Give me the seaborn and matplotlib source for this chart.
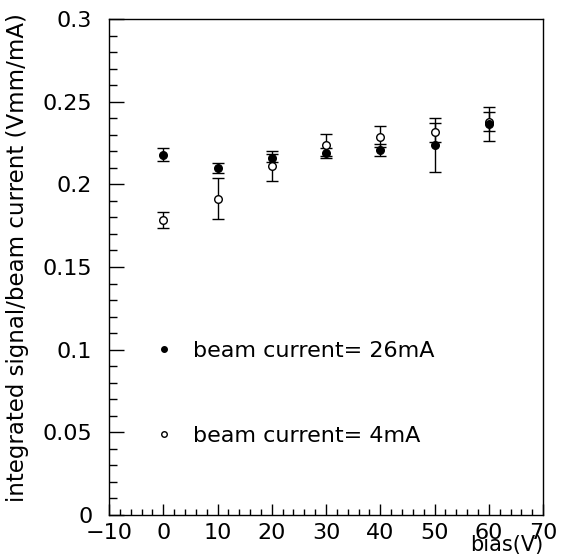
import numpy as np
import pandas as pd
import seaborn as sns
from matplotlib import pyplot as plt
from matplotlib.lines import Line2D
from matplotlib.ticker import MultipleLocator

# bias voltage (V)
bias = [0, 10, 20, 30, 40, 50, 60]

# beam current = 26 mA (filled)
sig_26 = [0.2180, 0.2098, 0.2158, 0.2188, 0.2208, 0.2238, 0.2365]
err_26 = [0.0040, 0.0030, 0.0024, 0.0030, 0.0035, 0.0165, 0.0100]

# beam current = 4 mA (open)
sig_4 = [0.1783, 0.1914, 0.2112, 0.2238, 0.2289, 0.2315, 0.2380]
err_4 = [0.0050, 0.0125, 0.0090, 0.0067, 0.0062, 0.0058, 0.0060]

labels = ["beam current= 26mA", "beam current= 4mA"]

sns.set_style("ticks")
plt.rcParams["font.family"] = ["DejaVu Sans"]
plt.rcParams["text.color"] = "black"
plt.rcParams["axes.labelcolor"] = "black"
plt.rcParams["xtick.color"] = "black"
plt.rcParams["ytick.color"] = "black"

df = pd.DataFrame({
    "bias": bias * 2,
    "signal": sig_4 + sig_26,
    "err": err_4 + err_26,
    "current": ["4mA"] * len(bias) + ["26mA"] * len(bias),
})

fig = plt.figure(figsize=(5.63, 5.59), dpi=100)
ax = fig.add_axes([0.1936, 0.0787, 0.771, 0.8873])

# open first so filled ends up on top
for cur, face in [("4mA", "white"), ("26mA", "black")]:
    d = df[df["current"] == cur]
    ax.errorbar(d["bias"], d["signal"], yerr=d["err"], fmt="none",
                ecolor="black", elinewidth=1.0, capsize=4, capthick=1.0, zorder=2)
    sns.scatterplot(x=d["bias"], y=d["signal"], ax=ax, s=30, marker="o",
                    facecolor=face, edgecolor="black", linewidth=1.0, zorder=3)

ax.set_xlim(-10, 70)
ax.set_ylim(0, 0.3)
ax.xaxis.set_major_locator(MultipleLocator(10))
ax.xaxis.set_minor_locator(MultipleLocator(2))
ax.yaxis.set_minor_locator(MultipleLocator(0.01))
ax.set_yticks([0, 0.05, 0.1, 0.15, 0.2, 0.25, 0.3])
ax.set_yticklabels(["0", "0.05", "0.1", "0.15", "0.2", "0.25", "0.3"])
ax.tick_params(which="major", direction="in", length=8, width=1.0, labelsize=16)
ax.tick_params(axis="x", which="major", pad=6)
ax.tick_params(axis="y", which="major", length=11, pad=12)
ax.tick_params(which="minor", direction="in", length=4, width=1.0)
ax.tick_params(axis="y", which="minor", length=6)
for sp in ax.spines.values():
    sp.set_linewidth(1.0)
    sp.set_color("black")

ax.set_xlabel("bias(V)", loc="right", fontsize=15, labelpad=-6)
ax.set_ylabel("integrated signal/beam current (Vmm/mA)", loc="top",
              fontsize=16.5, labelpad=0)
ax.yaxis.set_label_coords(-0.185, 1.012)

handles = [
    Line2D([], [], marker="o", linestyle="none", markersize=4,
           markerfacecolor="black", markeredgecolor="black"),
    Line2D([], [], marker="o", linestyle="none", markersize=4,
           markerfacecolor="white", markeredgecolor="black"),
]
ax.legend(handles, labels, loc="upper left", bbox_to_anchor=(0.055, 0.392),
          frameon=False, fontsize=16, labelspacing=2.95, handletextpad=0.8,
          handlelength=1.0)

plt.savefig("out.png", dpi=100)
